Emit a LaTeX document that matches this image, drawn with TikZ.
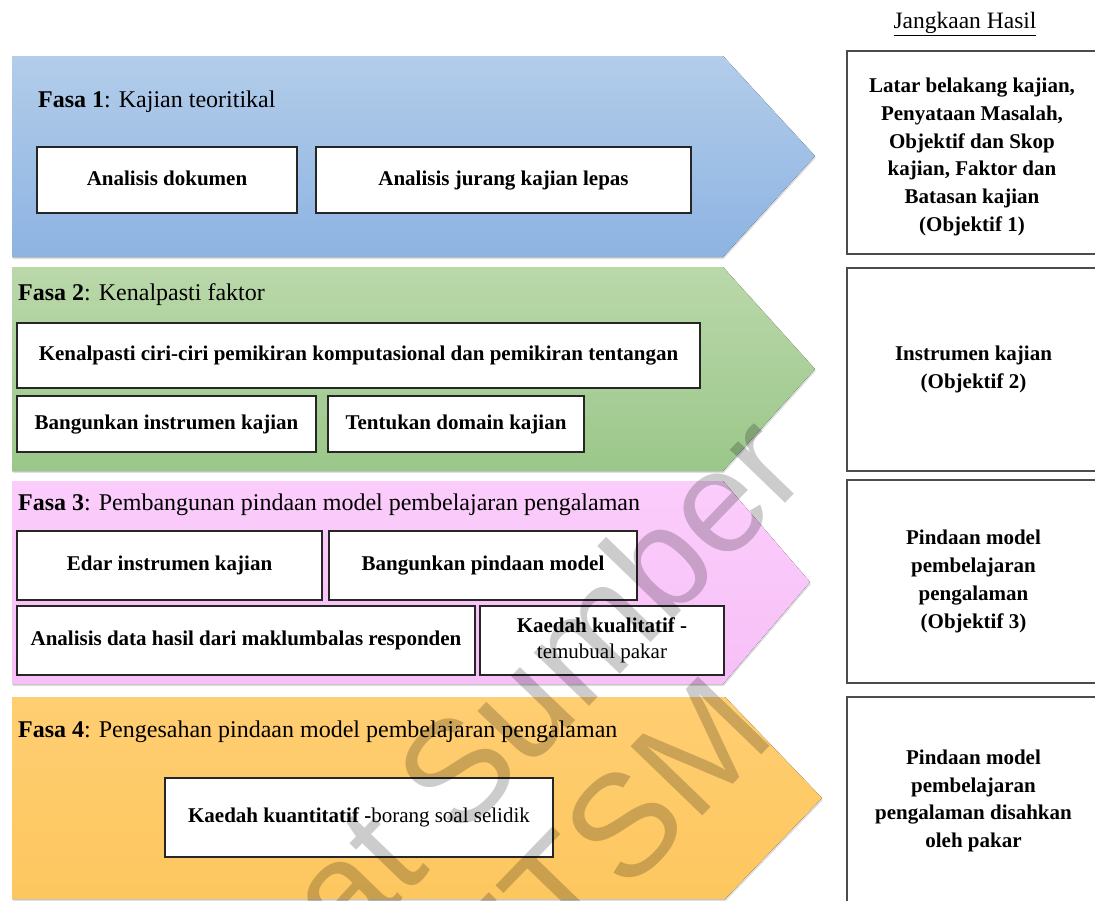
\documentclass[tikz,border=0pt]{standalone}
\usepackage{fontspec}
\setmainfont{Liberation Serif}
\newfontfamily\wmfont{Liberation Sans}
\usetikzlibrary{shadows}

\definecolor{blueTop}{HTML}{B3CDEA}
\definecolor{blueBot}{HTML}{8DB3E2}
\definecolor{greenTop}{HTML}{BAD8AA}
\definecolor{greenBot}{HTML}{9BC78A}
\definecolor{pinkTop}{HTML}{FBCDFB}
\definecolor{pinkBot}{HTML}{F7C0F7}
\definecolor{orangeTop}{HTML}{FFCE72}
\definecolor{orangeBot}{HTML}{FDC75F}

\tikzset{
  phase/.style={draw=none, drop shadow={shadow xshift=0.8pt, shadow yshift=-2pt, opacity=0.25}},
  taskbox/.style={draw=black!85, line width=1.1pt, fill=white, inner sep=0pt, align=center,
    font=\fontsize{21}{26}\selectfont\bfseries},
  oneline/.style={text height=14.5pt, text depth=4.5pt},
  phasetitle/.style={anchor=west, inner sep=0pt, font=\fontsize{24}{28}\selectfont},
  outbox/.style={draw=black!70, line width=1.2pt, fill=white, inner sep=0pt, align=center,
    minimum width=253pt, font=\fontsize{21}{27.8}\selectfont\bfseries},
  outtext/.style={inner sep=0pt, align=center, font=\fontsize{21}{27.8}\selectfont\bfseries},
  wmark/.style={text=black, opacity=0.2, inner sep=0pt, rotate=46,
    font=\wmfont\fontsize{145}{145}\selectfont}
}

\begin{document}
\begin{tikzpicture}[x=1pt, y=-1pt]
\useasboundingbox (0,0) rectangle (1095,900);

% phase chevrons
\fill[phase, top color=blueTop, bottom color=blueBot]
  (12,56) -- (723,56) -- (815,156) -- (723,257) -- (12,257) -- cycle;
\fill[phase, top color=greenTop, bottom color=greenBot]
  (12,267) -- (723,267) -- (815,369) -- (723,471) -- (12,471) -- cycle;
\fill[phase, top color=pinkTop, bottom color=pinkBot]
  (12,481) -- (723,481) -- (810,582) -- (723,684) -- (12,684) -- cycle;
\fill[phase, top color=orangeTop, bottom color=orangeBot]
  (12,697) -- (725,697) -- (822,798) -- (725,899) -- (12,899) -- cycle;

% phase titles
\node[phasetitle] (f1) at (38,102) {\textbf{Fasa 1}: Kajian teoritikal};
\node[phasetitle] (f2) at (18,295) {\textbf{Fasa 2}: Kenalpasti faktor};
\node[phasetitle] (f3) at (18,505) {\textbf{Fasa 3}: Pembangunan pindaan model pembelajaran pengalaman};
\node[phasetitle] (f4) at (18,732) {\textbf{Fasa 4}: Pengesahan pindaan model pembelajaran pengalaman};

% phase 1 tasks
\node[taskbox, oneline, minimum width=260pt, minimum height=66pt] (b11) at (167,180) {Analisis dokumen};
\node[taskbox, oneline, minimum width=375pt, minimum height=66pt] (b12) at (503.5,180) {Analisis jurang kajian lepas};

% phase 2 tasks
\node[taskbox, oneline, minimum width=683pt, minimum height=65pt] (b21) at (358.5,355.5)
  {Kenalpasti ciri-ciri pemikiran komputasional dan pemikiran tentangan};
\node[taskbox, oneline, minimum width=299pt, minimum height=56pt] (b22) at (166.5,424) {Bangunkan instrumen kajian};
\node[taskbox, oneline, minimum width=256pt, minimum height=56pt] (b23) at (456,424) {Tentukan domain kajian};

% phase 3 tasks
\node[taskbox, oneline, minimum width=305pt, minimum height=69pt] (b31) at (169.5,565.5) {Edar instrumen kajian};
\node[taskbox, oneline, minimum width=308pt, minimum height=69pt] (b32) at (483,565.5) {Bangunkan pindaan model};
\node[taskbox, oneline, minimum width=458pt, minimum height=69pt] (b33) at (246,640.5)
  {Analisis data hasil dari maklumbalas responden};
\node[taskbox, minimum width=244pt, minimum height=69pt] (b34) at (602,640.5)
  {Kaedah kualitatif -\\{\mdseries temubual pakar}};

% phase 4 task
\node[taskbox, oneline, minimum width=388pt, minimum height=79pt] (b41) at (359,817.5)
  {Kaedah kuantitatif -{\mdseries borang soal selidik}};

% expected outcomes column
\node[inner sep=0pt, font=\fontsize{23.5}{28}\selectfont] (hdr) at (965,24) {\underline{Jangkaan Hasil}};
\node[outbox, minimum height=203pt] (r1) at (973.5,152.5) {};
\node[outtext] (r1t) at (972,157)
  {Latar belakang kajian,\\Penyataan Masalah,\\Objektif dan Skop\\kajian, Faktor dan\\Batasan kajian\\(Objektif 1)};
\node[outbox, minimum height=203pt] (r2) at (973.5,369.5) {Instrumen kajian\\(Objektif 2)};
\node[outbox, minimum height=203pt] (r3) at (973.5,581.5)
  {Pindaan model\\pembelajaran\\pengalaman\\(Objektif 3)};
\node[outbox, minimum height=208pt] (r4) at (973.5,801)
  {Pindaan model\\pembelajaran\\pengalaman disahkan\\oleh pakar};

% watermark
\node[wmark] (wm1) at (456,770) {Pusat Sumber};
\node[wmark] (wm2) at (605,845) {FTSM};
\end{tikzpicture}
\end{document}
